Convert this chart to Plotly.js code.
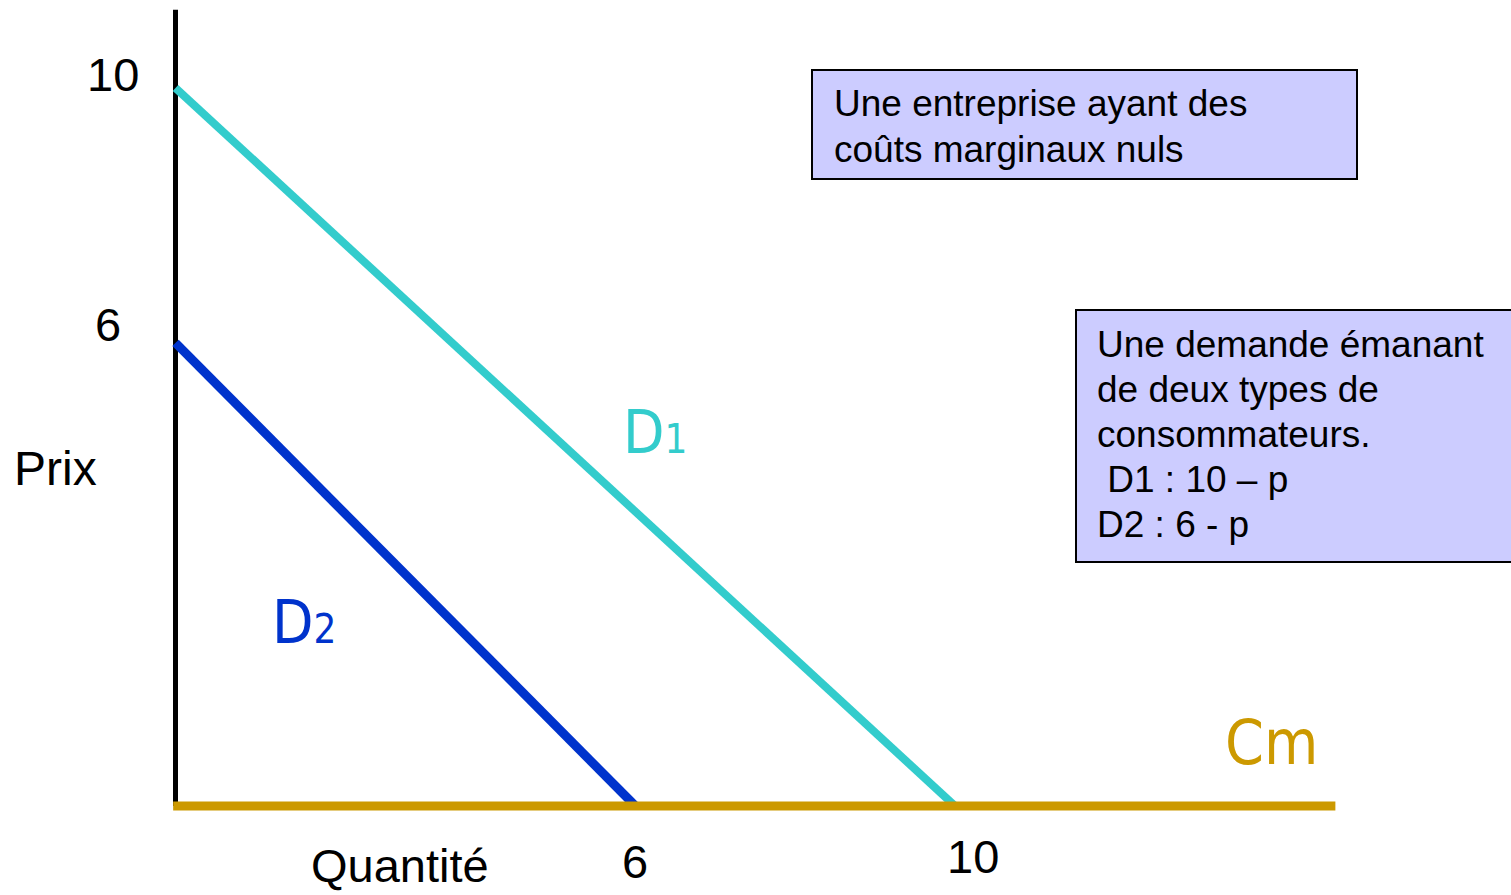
<!DOCTYPE html>
<html>
<head>
<meta charset="utf-8">
<script src="https://cdn.plot.ly/plotly-3.0.1.min.js"></script>
<style>
html,body{margin:0;padding:0;background:#fff;}
#chart{width:1511px;height:895px;}
</style>
</head>
<body>
<div id="chart"></div>
<script>
// ---- data ----
const d1X = [0, 10];
const d1Y = [10, 0];
const d2X = [0, 5.9];
const d2Y = [6.45, 0];
const cmX = [-0.03, 14.88];
const cmY = [0, 0];
const priceAxisX = [0, 0];
const priceAxisY = [0, 11.09];
const yTickLabels = ['10', '6'];
const xTickLabels = ['6', '10'];
const box1Lines = ['Une entreprise ayant des', 'coûts marginaux nuls'];
const box2Lines = ['Une demande émanant', 'de deux types de', 'consommateurs.', '\u00a0D1 : 10 – p', 'D2 : 6 - p'];
const curveLabels = ['D<span style="font-size:40px">1</span>', 'D<span style="font-size:40px">2</span>', 'Cm'];

// ---- layout helpers (pixel -> paper) ----
const W = 1511, H = 895;
const px = x => x / W;
const py = y => 1 - y / H;
const ARIAL = 'Liberation Sans, Arial, sans-serif';
const NARROW = 'Liberation Sans Narrow, Arial Narrow, DejaVu Sans Condensed, sans-serif';

const traces = [
  {x: priceAxisX, y: priceAxisY, mode: 'lines', line: {color: '#000000', width: 5}, hoverinfo: 'skip'},
  {x: d1X, y: d1Y, mode: 'lines', line: {color: '#33CCCC', width: 8}, name: 'D1'},
  {x: d2X, y: d2Y, mode: 'lines', line: {color: '#0033CC', width: 9}, name: 'D2'},
  {x: cmX, y: cmY, mode: 'lines', line: {color: '#CC9900', width: 9}, name: 'Cm'}
];

const ann = [];
function txt(text, x, y, size, color, family, xanchor) {
  ann.push({text: text, xref: 'paper', yref: 'paper', x: px(x), y: py(y),
    xanchor: xanchor || 'center', yanchor: 'middle', showarrow: false,
    font: {size: size, color: color || '#000', family: family || ARIAL}});
}
// tick labels
txt(yTickLabels[0], 113, 74, 47);
txt(yTickLabels[1], 108, 324, 47);
txt(xTickLabels[0], 635, 861, 47);
txt(xTickLabels[1], 973, 856, 47);
// axis titles
txt('Prix', 55, 469, 48);
txt('Quantité', 400, 865, 47);
// curve labels
txt(curveLabels[0], 655, 432, 60, '#33CCCC', NARROW);
txt(curveLabels[1], 304, 622, 60, '#0033CC', NARROW);
txt(curveLabels[2], 1271, 742, 62, '#CC9900', NARROW);
// box texts
box1Lines.forEach((l, i) => txt(l, 832, 104 + i * 45, 37, '#000', ARIAL, 'left'));
box2Lines.forEach((l, i) => txt(l, 1095, 344 + i * 45, 37, '#000', ARIAL, 'left'));

const shapes = [
  {type: 'rect', xref: 'paper', yref: 'paper', x0: px(812), x1: px(1357), y0: py(70), y1: py(179),
   fillcolor: '#CCCCFF', line: {color: '#000', width: 2}, layer: 'below'},
  {type: 'rect', xref: 'paper', yref: 'paper', x0: px(1076), x1: px(1515), y0: py(310), y1: py(562),
   fillcolor: '#CCCCFF', line: {color: '#000', width: 2}, layer: 'below'}
];

const layout = {
  width: W, height: H,
  margin: {l: 0, r: 0, t: 0, b: 0, pad: 0},
  paper_bgcolor: '#fff', plot_bgcolor: '#fff',
  showlegend: false,
  xaxis: {range: [-2.2515, 17.133], visible: false, fixedrange: true},
  yaxis: {range: [-1.2396, 11.2256], visible: false, fixedrange: true},
  annotations: ann,
  shapes: shapes
};

Plotly.newPlot('chart', traces, layout, {displayModeBar: false, staticPlot: true});
</script>
</body>
</html>
